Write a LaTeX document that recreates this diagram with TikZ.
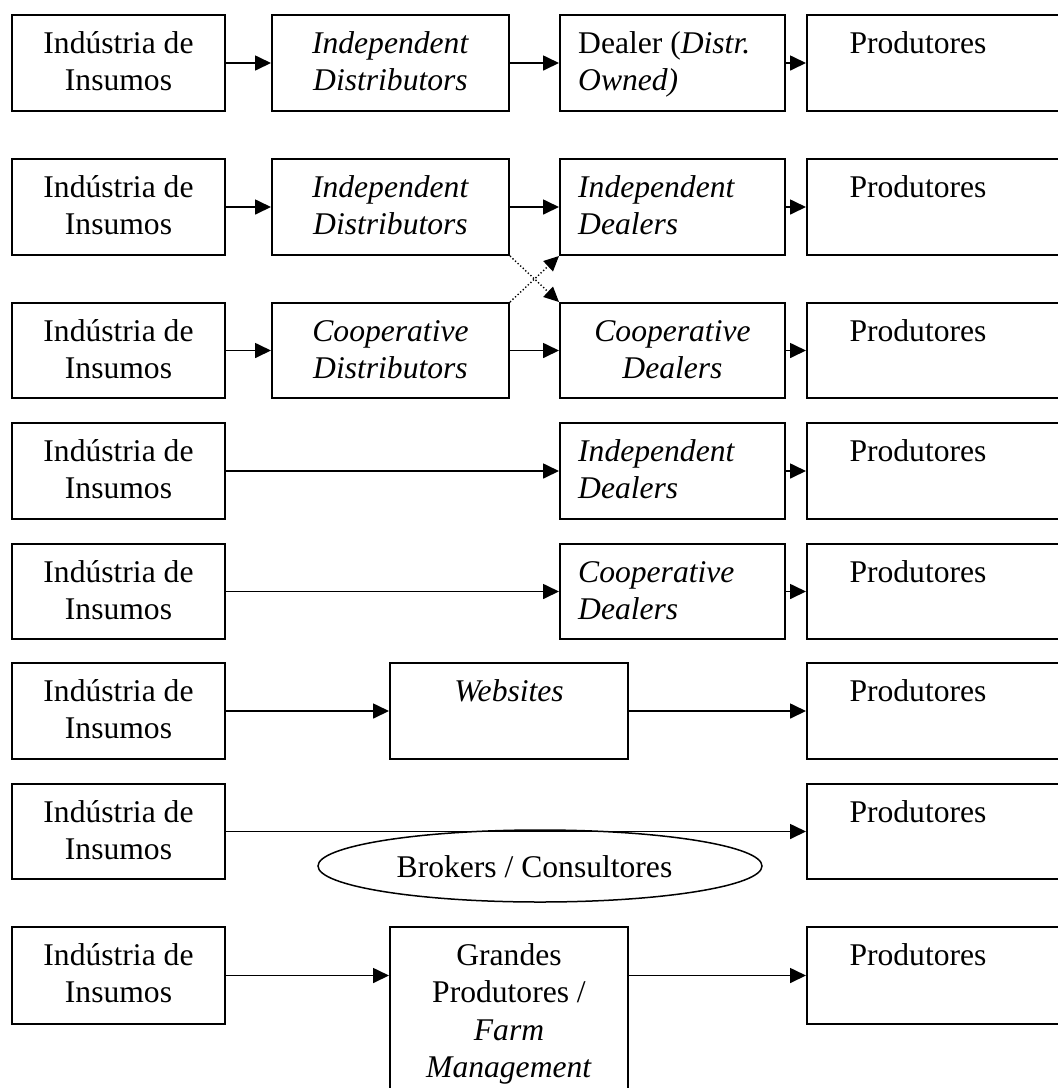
\documentclass[tikz,border=0pt]{standalone}
\usepackage{fontspec}
\setmainfont{Liberation Serif}
\usetikzlibrary{arrows.meta,shapes.geometric}
% fixed height for the first text line of every box
\newcommand\lnstrut{\rule{0pt}{26pt}}
\begin{document}
\begin{tikzpicture}[x=1pt,y=-1pt,
  box/.style={draw,line width=2pt,rectangle,inner sep=0pt,anchor=north west},
  colA/.style={box,minimum width=213pt},
  colB/.style={box,minimum width=237pt},
  colC/.style={box,minimum width=225pt},
  colD/.style={box,minimum width=264pt},
  colW/.style={box,minimum width=238pt},
  ctext/.style={inner sep=0pt,anchor=north,align=center,font=\fontsize{31.6}{37.4}\selectfont},
  ltext/.style={inner sep=0pt,anchor=north west,align=left,font=\fontsize{31.6}{37.4}\selectfont},
  arr/.style={line width=1.7pt,-{Triangle[length=16pt,width=15pt]}},
  dotarr/.style={line width=1.4pt,dash pattern=on 1.3pt off 2.2pt,-{Triangle[length=15pt,width=14pt]}},
]
\useasboundingbox (0,0) rectangle (1058,1088);
\clip (0,0) rectangle (1058,1088);

% ---------- row 1 ----------
\node[colA,minimum height=96pt] (a1) at (11,14) {};
\node[colB,minimum height=96pt] (b1) at (271,14) {};
\node[colC,minimum height=96pt] (c1) at (559,14) {};
\node[colD,minimum height=96pt] (d1) at (806,14) {};
\node[ctext] (a1t) at ([yshift=-13pt]a1.north) {\lnstrut Indústria de\\Insumos};
\node[ctext] (b1t) at ([yshift=-13pt]b1.north) {\lnstrut\textit{Independent}\\\textit{Distributors}};
\node[ltext] (c1t) at ([xshift=19pt,yshift=-13pt]c1.north west) {\lnstrut Dealer (\textit{Distr.}\\\textit{Owned)}};
\node[ctext] (d1t) at ([xshift=112pt,yshift=-13pt]d1.north west) {\lnstrut Produtores};
\draw[arr] (a1.east) -- (b1.west);
\draw[arr] (b1.east) -- (c1.west);
\draw[arr] (c1.east) -- (d1.west);

% ---------- row 2 ----------
\node[colA,minimum height=96pt] (a2) at (11,158) {};
\node[colB,minimum height=96pt] (b2) at (271,158) {};
\node[colC,minimum height=96pt] (c2) at (559,158) {};
\node[colD,minimum height=96pt] (d2) at (806,158) {};
\node[ctext] (a2t) at ([yshift=-13pt]a2.north) {\lnstrut Indústria de\\Insumos};
\node[ctext] (b2t) at ([yshift=-13pt]b2.north) {\lnstrut\textit{Independent}\\\textit{Distributors}};
\node[ltext] (c2t) at ([xshift=19pt,yshift=-13pt]c2.north west) {\lnstrut\textit{Independent}\\\textit{Dealers}};
\node[ctext] (d2t) at ([xshift=112pt,yshift=-13pt]d2.north west) {\lnstrut Produtores};
\draw[arr] (a2.east) -- (b2.west);
\draw[arr] (b2.east) -- (c2.west);
\draw[arr] (c2.east) -- (d2.west);

% ---------- row 3 ----------
\node[colA,minimum height=95pt] (a3) at (11,302) {};
\node[colB,minimum height=95pt] (b3) at (271,302) {};
\node[colC,minimum height=95pt] (c3) at (559,302) {};
\node[colD,minimum height=95pt] (d3) at (806,302) {};
\node[ctext] (a3t) at ([yshift=-13pt]a3.north) {\lnstrut Indústria de\\Insumos};
\node[ctext] (b3t) at ([yshift=-13pt]b3.north) {\lnstrut\textit{Cooperative}\\\textit{Distributors}};
\node[ctext] (c3t) at ([yshift=-13pt]c3.north) {\lnstrut\textit{Cooperative}\\\textit{Dealers}};
\node[ctext] (d3t) at ([xshift=112pt,yshift=-13pt]d3.north west) {\lnstrut Produtores};
\draw[arr] (a3.east) -- (b3.west);
\draw[arr] (b3.east) -- (c3.west);
\draw[arr] (c3.east) -- (d3.west);

% crossing links between rows 2 and 3
\draw[dotarr] (b2.south east) -- (c3.north west);
\draw[dotarr] (b3.north east) -- (c2.south west);

% ---------- row 4 ----------
\node[colA,minimum height=96pt] (a4) at (11,422) {};
\node[colC,minimum height=96pt] (c4) at (559,422) {};
\node[colD,minimum height=96pt] (d4) at (806,422) {};
\node[ctext] (a4t) at ([yshift=-13pt]a4.north) {\lnstrut Indústria de\\Insumos};
\node[ltext] (c4t) at ([xshift=19pt,yshift=-13pt]c4.north west) {\lnstrut\textit{Independent}\\\textit{Dealers}};
\node[ctext] (d4t) at ([xshift=112pt,yshift=-13pt]d4.north west) {\lnstrut Produtores};
\draw[arr] (a4.east) -- (c4.west);
\draw[arr] (c4.east) -- (d4.west);

% ---------- row 5 ----------
\node[colA,minimum height=95pt] (a5) at (11,543) {};
\node[colC,minimum height=95pt] (c5) at (559,543) {};
\node[colD,minimum height=95pt] (d5) at (806,543) {};
\node[ctext] (a5t) at ([yshift=-13pt]a5.north) {\lnstrut Indústria de\\Insumos};
\node[ltext] (c5t) at ([xshift=19pt,yshift=-13pt]c5.north west) {\lnstrut\textit{Cooperative}\\\textit{Dealers}};
\node[ctext] (d5t) at ([xshift=112pt,yshift=-13pt]d5.north west) {\lnstrut Produtores};
\draw[arr] (a5.east) -- (c5.west);
\draw[arr] (c5.east) -- (d5.west);

% ---------- row 6 ----------
\node[colA,minimum height=96pt] (a6) at (11,662) {};
\node[colW,minimum height=96pt] (w6) at (389,662) {};
\node[colD,minimum height=96pt] (d6) at (806,662) {};
\node[ctext] (a6t) at ([yshift=-13pt]a6.north) {\lnstrut Indústria de\\Insumos};
\node[ctext] (w6t) at ([yshift=-13pt]w6.north) {\lnstrut\textit{Websites}};
\node[ctext] (d6t) at ([xshift=112pt,yshift=-13pt]d6.north west) {\lnstrut Produtores};
\draw[arr] (a6.east) -- (w6.west);
\draw[arr] (w6.east) -- (d6.west);

% ---------- row 7 ----------
\node[colA,minimum height=95pt] (a7) at (11,783) {};
\node[colD,minimum height=95pt] (d7) at (806,783) {};
\node[ctext] (a7t) at ([yshift=-13pt]a7.north) {\lnstrut Indústria de\\Insumos};
\node[ctext] (d7t) at ([xshift=112pt,yshift=-13pt]d7.north west) {\lnstrut Produtores};
\draw[arr] (a7.east) -- (d7.west);
\node[ellipse,draw,line width=1.5pt,inner sep=0pt,minimum width=444pt,minimum height=72pt] (brk) at (540,866) {};
\node[inner sep=0pt,anchor=base,font=\fontsize{31.6}{37.4}\selectfont] (brkt) at (534.5,877) {Brokers / Consultores};

% ---------- row 8 ----------
\node[colA,minimum height=97pt] (a8) at (11,926) {};
\node[colW,minimum height=180pt] (g8) at (389,926) {};
\node[colD,minimum height=97pt] (d8) at (806,926) {};
\node[ctext] (a8t) at ([yshift=-13pt]a8.north) {\lnstrut Indústria de\\Insumos};
\node[ctext] (g8t) at ([yshift=-13pt]g8.north) {\lnstrut Grandes\\Produtores /\\\textit{Farm}\\\textit{Management}};
\node[ctext] (d8t) at ([xshift=112pt,yshift=-13pt]d8.north west) {\lnstrut Produtores};
\draw[arr] (a8.east) -- (a8.east -| g8.west);
\draw[arr] (a8.east -| g8.east) -- (d8.west);
\end{tikzpicture}
\end{document}
